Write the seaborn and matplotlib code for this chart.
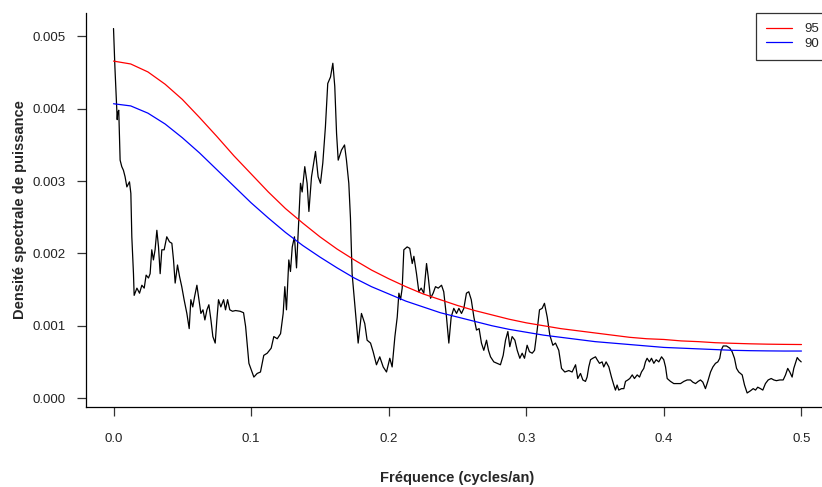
import numpy as np
import pandas as pd
import matplotlib
matplotlib.use("Agg")
import matplotlib.pyplot as plt
import seaborn as sns

# Fréquences (cycles/an) et densité spectrale (en 1e-3)
freq = [0.0000, 0.0010, 0.0027, 0.0030, 0.0038, 0.0048, 0.0060, 0.0072, 0.0084, 0.0097,
        0.0116, 0.0126, 0.0133, 0.0145, 0.0150, 0.0170, 0.0189, 0.0206, 0.0223, 0.0237,
        0.0254, 0.0266, 0.0278, 0.0290, 0.0302, 0.0315, 0.0327, 0.0339, 0.0351, 0.0368,
        0.0387, 0.0407, 0.0424, 0.0436, 0.0448, 0.0465, 0.0480, 0.0496, 0.0513, 0.0533,
        0.0550, 0.0562, 0.0576, 0.0589, 0.0606, 0.0618, 0.0635, 0.0650, 0.0664, 0.0679,
        0.0693, 0.0708, 0.0722, 0.0739, 0.0751, 0.0763, 0.0780, 0.0800, 0.0814, 0.0829,
        0.0845, 0.0865, 0.0887, 0.0920, 0.0945, 0.0960, 0.0984, 0.1020, 0.1044, 0.1068,
        0.1092, 0.1117, 0.1146, 0.1165, 0.1190, 0.1214, 0.1233, 0.1245, 0.1257, 0.1274,
        0.1286, 0.1299, 0.1315, 0.1330, 0.1359, 0.1371, 0.1390, 0.1407, 0.1420, 0.1439,
        0.1468, 0.1487, 0.1504, 0.1521, 0.1540, 0.1557, 0.1577, 0.1594, 0.1608, 0.1621,
        0.1633, 0.1657, 0.1679, 0.1693, 0.1710, 0.1722, 0.1734, 0.1759, 0.1778, 0.1802,
        0.1826, 0.1843, 0.1868, 0.1887, 0.1911, 0.1935, 0.1960, 0.1984, 0.2008, 0.2025,
        0.2045, 0.2062, 0.2074, 0.2086, 0.2098, 0.2110, 0.2134, 0.2153, 0.2171, 0.2183,
        0.2202, 0.2219, 0.2236, 0.2255, 0.2275, 0.2287, 0.2304, 0.2323, 0.2340, 0.2360,
        0.2384, 0.2400, 0.2420, 0.2437, 0.2454, 0.2473, 0.2493, 0.2510, 0.2529, 0.2546,
        0.2565, 0.2582, 0.2600, 0.2619, 0.2638, 0.2657, 0.2674, 0.2691, 0.2711, 0.2725,
        0.2740, 0.2764, 0.2788, 0.2812, 0.2832, 0.2849, 0.2866, 0.2880, 0.2897, 0.2917,
        0.2934, 0.2953, 0.2970, 0.2987, 0.3006, 0.3023, 0.3043, 0.3060, 0.3079, 0.3096,
        0.3115, 0.3132, 0.3152, 0.3171, 0.3193, 0.3212, 0.3236, 0.3256, 0.3280, 0.3309,
        0.3333, 0.3358, 0.3374, 0.3394, 0.3411, 0.3430, 0.3442, 0.3454, 0.3467, 0.3483,
        0.3503, 0.3515, 0.3532, 0.3551, 0.3563, 0.3580, 0.3600, 0.3619, 0.3636, 0.3648,
        0.3660, 0.3672, 0.3692, 0.3709, 0.3721, 0.3738, 0.3752, 0.3770, 0.3786, 0.3806,
        0.3823, 0.3837, 0.3854, 0.3866, 0.3878, 0.3895, 0.3910, 0.3927, 0.3944, 0.3963,
        0.3983, 0.3999, 0.4012, 0.4024, 0.4048, 0.4072, 0.4097, 0.4121, 0.4145, 0.4169,
        0.4193, 0.4210, 0.4230, 0.4249, 0.4266, 0.4283, 0.4302, 0.4319, 0.4339, 0.4356,
        0.4375, 0.4392, 0.4406, 0.4416, 0.4431, 0.4455, 0.4479, 0.4496, 0.4513, 0.4528,
        0.4544, 0.4569, 0.4586, 0.4605, 0.4629, 0.4649, 0.4666, 0.4682, 0.4702, 0.4719,
        0.4738, 0.4758, 0.4780, 0.4799, 0.4818, 0.4842, 0.4867, 0.4884, 0.4900, 0.4915,
        0.4932, 0.4944, 0.4956, 0.4969, 0.4981, 0.4998]

dsp = [5.11, 4.58, 3.85, 3.94, 3.98, 3.29, 3.20, 3.15, 3.06, 2.92,
       2.99, 2.83, 2.23, 1.72, 1.42, 1.52, 1.45, 1.56, 1.52, 1.70,
       1.66, 1.72, 2.05, 1.91, 2.05, 2.32, 2.09, 1.72, 2.05, 2.05,
       2.23, 2.16, 2.14, 1.91, 1.59, 1.84, 1.68, 1.54, 1.36, 1.17,
       0.96, 1.36, 1.26, 1.40, 1.56, 1.40, 1.17, 1.22, 1.08, 1.22,
       1.29, 1.08, 0.85, 0.76, 1.08, 1.36, 1.26, 1.36, 1.22, 1.36,
       1.22, 1.20, 1.21, 1.20, 1.18, 0.99, 0.48, 0.29, 0.34, 0.36,
       0.59, 0.62, 0.69, 0.85, 0.82, 0.89, 1.17, 1.54, 1.22, 1.91,
       1.75, 2.09, 2.23, 1.80, 2.97, 2.85, 3.20, 2.97, 2.58, 3.06,
       3.41, 3.06, 2.97, 3.25, 3.75, 4.35, 4.44, 4.63, 4.31, 3.66,
       3.29, 3.43, 3.50, 3.29, 2.97, 2.49, 1.72, 1.17, 0.76, 1.17,
       1.03, 0.80, 0.76, 0.64, 0.46, 0.57, 0.43, 0.36, 0.55, 0.43,
       0.85, 1.12, 1.45, 1.36, 1.52, 2.05, 2.09, 2.07, 1.86, 1.96,
       1.72, 1.47, 1.52, 1.45, 1.86, 1.68, 1.38, 1.45, 1.54, 1.52,
       1.56, 1.47, 1.12, 0.76, 1.12, 1.24, 1.17, 1.24, 1.17, 1.24,
       1.45, 1.47, 1.36, 1.12, 0.94, 0.96, 0.76, 0.66, 0.80, 0.66,
       0.57, 0.50, 0.48, 0.46, 0.59, 0.80, 0.92, 0.71, 0.85, 0.80,
       0.66, 0.55, 0.62, 0.55, 0.73, 0.64, 0.62, 0.66, 0.94, 1.22,
       1.24, 1.31, 1.12, 0.87, 0.73, 0.76, 0.66, 0.41, 0.36, 0.38,
       0.36, 0.46, 0.27, 0.34, 0.25, 0.23, 0.29, 0.43, 0.53, 0.55,
       0.57, 0.53, 0.48, 0.50, 0.43, 0.50, 0.43, 0.29, 0.18, 0.11,
       0.18, 0.11, 0.13, 0.13, 0.23, 0.25, 0.27, 0.32, 0.27, 0.32,
       0.29, 0.36, 0.41, 0.50, 0.55, 0.50, 0.55, 0.48, 0.53, 0.50,
       0.57, 0.53, 0.43, 0.27, 0.23, 0.20, 0.20, 0.20, 0.23, 0.25,
       0.25, 0.22, 0.20, 0.23, 0.25, 0.22, 0.13, 0.23, 0.36, 0.43,
       0.48, 0.50, 0.55, 0.66, 0.72, 0.72, 0.69, 0.64, 0.55, 0.41,
       0.36, 0.32, 0.18, 0.07, 0.10, 0.13, 0.11, 0.15, 0.13, 0.11,
       0.20, 0.25, 0.27, 0.25, 0.24, 0.25, 0.25, 0.32, 0.41, 0.36,
       0.29, 0.41, 0.48, 0.56, 0.53, 0.50]

# Seuils de confiance 95 % et 90 % (en 1e-3)
freq_seuil = [0.0000, 0.0125, 0.0250, 0.0375, 0.0500, 0.0625, 0.0750, 0.0875, 0.1000, 0.1125,
              0.1250, 0.1375, 0.1500, 0.1625, 0.1750, 0.1875, 0.2000, 0.2125, 0.2250, 0.2375,
              0.2500, 0.2625, 0.2750, 0.2875, 0.3000, 0.3125, 0.3250, 0.3375, 0.3500, 0.3625,
              0.3750, 0.3875, 0.4000, 0.4125, 0.4250, 0.4375, 0.4500, 0.4625, 0.4750, 0.4875,
              0.5000]
seuil_95 = [4.66, 4.62, 4.51, 4.34, 4.13, 3.88, 3.62, 3.35, 3.10, 2.85,
            2.62, 2.42, 2.23, 2.06, 1.91, 1.77, 1.65, 1.54, 1.44, 1.36,
            1.28, 1.21, 1.15, 1.09, 1.04, 1.00, 0.96, 0.93, 0.90, 0.87,
            0.84, 0.82, 0.81, 0.79, 0.78, 0.765, 0.757, 0.75, 0.745, 0.742,
            0.74]
seuil_90 = [4.07, 4.04, 3.94, 3.79, 3.60, 3.39, 3.16, 2.93, 2.70, 2.49,
            2.29, 2.11, 1.95, 1.80, 1.66, 1.54, 1.44, 1.34, 1.26, 1.18,
            1.12, 1.06, 1.00, 0.95, 0.91, 0.87, 0.84, 0.81, 0.78, 0.76,
            0.74, 0.72, 0.70, 0.69, 0.68, 0.67, 0.66, 0.655, 0.652, 0.65,
            0.65]

x_ticks = [0.0, 0.1, 0.2, 0.3, 0.4, 0.5]
y_ticks = [0.000, 0.001, 0.002, 0.003, 0.004, 0.005]

sns.set_style("ticks")
plt.rcParams["font.family"] = ["Liberation Sans", "DejaVu Sans"]

spec = pd.DataFrame({"freq": freq, "dsp": np.array(dsp) * 1e-3})
seuils = pd.DataFrame({"freq": freq_seuil,
                       "s95": np.array(seuil_95) * 1e-3,
                       "s90": np.array(seuil_90) * 1e-3})

fig = plt.figure(figsize=(8.22, 4.87), dpi=100)
ax = fig.add_axes([86 / 822, 80 / 487, 743 / 822, 394 / 487])

sns.lineplot(data=spec, x="freq", y="dsp", ax=ax, color="black", linewidth=0.9)
sns.lineplot(data=seuils, x="freq", y="s95", ax=ax, color="red", linewidth=0.9, label="95")
sns.lineplot(data=seuils, x="freq", y="s90", ax=ax, color="blue", linewidth=0.9, label="90")

ax.set_xlim(-0.02, 0.52)
ax.set_ylim(-0.000124, 0.005325)
ax.set_xticks(x_ticks)
ax.set_xticklabels([f"{t:.1f}" for t in x_ticks])
ax.set_yticks(y_ticks)
ax.set_yticklabels([f"{t:.3f}" for t in y_ticks])
ax.tick_params(axis="both", direction="out", length=6.5, width=0.9, color="#333333",
               labelsize=9.5, labelcolor="#222222", bottom=True, left=True)
ax.tick_params(axis="x", pad=12)
ax.tick_params(axis="y", pad=8)

for side in ["top", "right"]:
    ax.spines[side].set_visible(False)
for side in ["left", "bottom"]:
    ax.spines[side].set_color("black")
    ax.spines[side].set_linewidth(0.9)

ax.set_xlabel("Fréquence (cycles/an)", fontsize=10.5, fontweight="bold", labelpad=19)
ax.set_ylabel("Densité spectrale de puissance", fontsize=10.5, fontweight="bold", labelpad=4)

leg = ax.legend(loc="upper right", bbox_to_anchor=(1.0, 1.0), borderaxespad=0,
                fancybox=False, edgecolor="#333333", fontsize=9.5, handlelength=2.0,
                handletextpad=0.9, borderpad=0.75, labelspacing=0.2, framealpha=1)
leg.get_frame().set_linewidth(0.9)

fig.savefig("out.png", dpi=100)
